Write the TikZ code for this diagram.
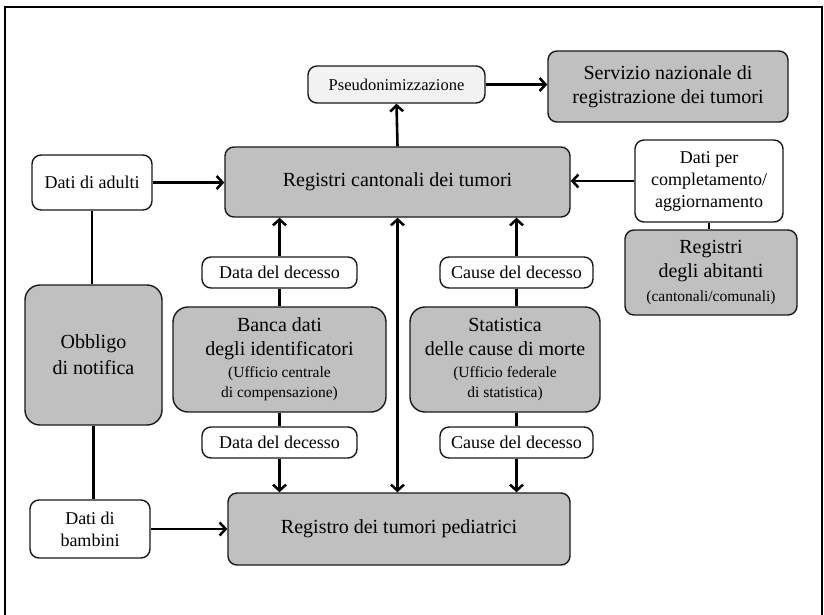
\documentclass[tikz,border=0pt]{standalone}
\usepackage{fontspec}
\setmainfont{Liberation Serif}
\usetikzlibrary{arrows.meta}
\definecolor{boxgray}{HTML}{C0C0C0}
\definecolor{pseudogray}{HTML}{F2F2F2}
\newcommand\smtxt{\fontsize{15.5}{18}\selectfont}
\begin{document}
\begin{tikzpicture}[x=1pt,y=-1pt,
  box/.style={draw=black!90, line width=1.4pt, rounded corners=9pt, align=center, inner sep=0pt, text=black},
  gbox/.style={box, fill=boxgray},
  wbox/.style={box, fill=white},
  big/.style={font=\fontsize{20}{24}\selectfont},
  lab/.style={font=\fontsize{18}{22}\selectfont},
  tip/.tip={Straight Barb[length=6pt,width=13pt,line width=2.5pt]},
  arr/.style={line width=2.6pt, -tip},
  dblarr/.style={line width=2.6pt, tip-tip},
  ln/.style={line width=2.6pt}
]
\useasboundingbox (0,0) rectangle (824,614);
\fill[white] (0,0) rectangle (824,614);
\draw[line width=2.2pt] (5,640) -- (5,7) -- (822,7) -- (822,640);

% nodes
\node[box, fill=pseudogray, font=\fontsize{16.5}{20}\selectfont, minimum width=177, minimum height=37] (pseudo) at (396.5,84.5) {Pseudonimizzazione};
\node[gbox, big, minimum width=240, minimum height=71] (serv) at (668,86.5) {Servizio nazionale di\\registrazione dei tumori};
\node[wbox, lab, minimum width=120, minimum height=55] (adulti) at (92,182.5) {Dati di adulti};
\node[gbox, big, minimum width=345, minimum height=70] (regc) at (397.5,182) {Registri cantonali dei tumori};
\node[wbox, lab, minimum width=148, minimum height=82] (datiper) at (709,181) {Dati per\\completamento/\\aggiornamento};
\node[gbox, big, minimum width=172, minimum height=85] (abit) at (711,272.5) {Registri\\degli abitanti\\\smtxt(cantonali/comunali)};
\node[wbox, lab, minimum width=155, minimum height=31] (dd1) at (279.5,272.5) {Data del decesso};
\node[wbox, lab, minimum width=153, minimum height=31] (cd1) at (516.5,272.5) {Cause del decesso};
\node[gbox, big, rounded corners=15pt, minimum width=137, minimum height=140] (obb) at (93.5,355) {Obbligo\\[2pt]di notifica};
\node[gbox, big, rounded corners=15pt, minimum width=213, minimum height=105] (banca) at (279.5,359.5) {Banca dati\\degli identificatori\\[-2pt]\smtxt(Ufficio centrale\\[-4pt]\smtxt di compensazione)};
\node[gbox, big, rounded corners=15pt, minimum width=190, minimum height=105] (stat) at (505,359.5) {Statistica\\delle cause di morte\\[-2pt]\smtxt(Ufficio federale\\[-4pt]\smtxt di statistica)};
\node[wbox, lab, minimum width=155, minimum height=31] (dd2) at (279.5,442.5) {Data del decesso};
\node[wbox, lab, minimum width=153, minimum height=31] (cd2) at (516.5,442.5) {Cause del decesso};
\node[wbox, lab, minimum width=120, minimum height=58] (bamb) at (90,529) {Dati di\\bambini};
\node[gbox, big, minimum width=342, minimum height=72] (ped) at (399,529) {Registro dei tumori pediatrici};

% connectors
\draw[arr] (regc.north) -- (pseudo.south);
\draw[arr] (pseudo.east) -- (pseudo.east -| serv.west);
\draw[arr] (adulti.east) -- (adulti.east -| regc.west);
\draw[arr] (datiper.west) -- (datiper.west -| regc.east);
\draw[ln] (datiper.south) -- (datiper.south |- abit.north);
\draw[ln] (adulti.south) -- (adulti.south |- obb.north);
\draw[ln] (obb.south) -- (obb.south |- bamb.north);
\draw[arr] (bamb.east) -- (bamb.east -| ped.west);
\draw[arr] (dd1.north) -- (dd1.north |- regc.south);
\draw[ln] (banca.north) -- (banca.north |- dd1.south);
\draw[ln] (banca.south) -- (banca.south |- dd2.north);
\draw[arr] (dd2.south) -- (dd2.south |- ped.north);
\draw[arr] (cd1.north) -- (cd1.north |- regc.south);
\draw[ln] (cd1.south) -- (cd1.south |- stat.north);
\draw[ln] (cd2.north) -- (cd2.north |- stat.south);
\draw[arr] (cd2.south) -- (cd2.south |- ped.north);
\draw[dblarr] (regc.south) -- (regc.south |- ped.north);
\end{tikzpicture}
\end{document}
